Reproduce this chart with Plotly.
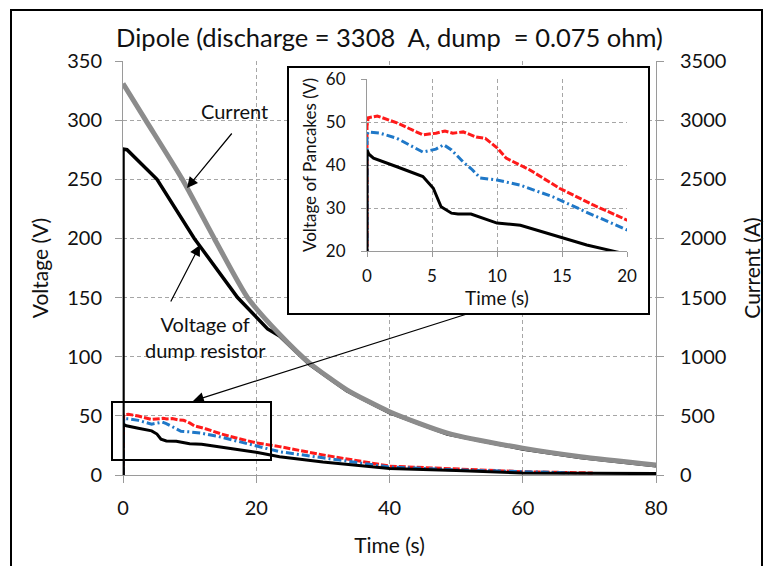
import plotly.graph_objects as go

# ---------------- data ----------------
# Current through the dipole (A), right axis
cur_t = [0, 3.4, 8.9, 13.7, 18.7, 23.5, 28, 33.6, 40, 48.7, 60, 68.7, 80]
cur_a = [3310, 3000, 2500, 2000, 1500, 1190, 946, 720, 535, 354, 227, 155, 85]

# Voltage of dump resistor (V)
dump_t = [0, 0, 0.6, 3.6, 5.1, 10.7, 17.2, 21.7, 23.5, 28, 33.6, 40, 48.7, 60, 68.7, 80]
dump_v = [0, 275.6, 275, 258, 250, 200, 150, 123.5, 117.5, 93.6, 71.2, 52.8, 34.7, 22.0, 14.8, 7.8]

# Voltage of pancakes (V)
red_t = [0, 0, 0.1, 0.8, 2.3, 4.3, 5.3, 6.0, 6.6, 7.4, 8.4, 9.1, 10.0, 10.7, 12.5,
         14.8, 17.4, 20.0, 23.5, 30, 40, 50, 60, 70.5]
red_v = [0, 49, 51, 51.4, 49.8, 47, 47.4, 47.9, 47.4, 47.7, 46.5, 46.2, 44, 41.6, 38.9,
         34.6, 30.7, 27.2, 24, 17, 7.5, 5.2, 2.8, 1.7]

blue_t = [0, 0, 0.1, 1.0, 2.3, 4.3, 5.3, 5.9, 6.5, 7.4, 8.1, 8.7, 10.0, 11.8, 14.3,
          16.9, 20.0, 23.5, 30, 40, 50, 60, 67]
blue_v = [0, 47, 47.7, 47.4, 46.2, 43, 43.7, 44.7, 43.5, 40.7, 38.9, 37, 36.5, 35.3, 32.6,
          29, 24.9, 19.7, 14.5, 6.8, 4.3, 2.5, 1.8]

black_t = [0, 0, 0.15, 0.5, 2.3, 4.3, 5.1, 5.7, 6.5, 7.0, 8.0, 9.0, 10.0, 11.8, 14.3,
           16.9, 19.2, 20.0, 23.5, 30, 40, 50, 60, 70, 80]
black_v = [0, 43.5, 42.5, 41.6, 39.6, 37.3, 34.6, 30.3, 28.8, 28.6, 28.6, 27.5, 26.5, 26, 23.7,
           21.4, 19.8, 19.2, 15.5, 11, 5.6, 3.7, 1.7, 1.4, 1.2]

main_x_ticks = [0, 20, 40, 60, 80]
main_y_ticks = [0, 50, 100, 150, 200, 250, 300, 350]
main_y2_ticks = [0, 500, 1000, 1500, 2000, 2500, 3000, 3500]
inset_x_ticks = [0, 5, 10, 15, 20]
inset_y_ticks = [20, 30, 40, 50, 60]

TITLE = "Dipole (discharge = 3308  A, dump  = 0.075 ohm)"

# ---------------- styling ----------------
FONT = "Lato, 'Open Sans', sans-serif"
TXT = "#111111"
GRID = "#a6a6a6"
AXL = "#9a9a9a"
RED = "#ff1a1a"
BLUE = "#1f78c8"
GRAY = "#8c8c8c"

# figure fills the whole 767x566 page (body margin removed in post_script)
W, H = 767, 566
# main plot area in page pixels: (123,61)-(656,475)
L, R, T, B = 123, 656, 61, 475


def px(xp):
    return (xp - L) / (R - L)


def py(yp):
    return (B - yp) / (B - T)


fig = go.Figure()

# main subplot: pancakes
fig.add_trace(go.Scatter(x=red_t, y=red_v, mode="lines",
                         line=dict(color=RED, width=3, dash="7px,2px"), name="red"))
fig.add_trace(go.Scatter(x=blue_t, y=blue_v, mode="lines",
                         line=dict(color=BLUE, width=3, dash="8px,3px,2px,3px"), name="blue"))
fig.add_trace(go.Scatter(x=black_t, y=black_v, mode="lines",
                         line=dict(color="black", width=3), name="black"))
# dump resistor voltage
fig.add_trace(go.Scatter(x=dump_t, y=dump_v, mode="lines",
                         line=dict(color="black", width=3.5), name="Voltage of dump resistor"))
# current (right axis)
fig.add_trace(go.Scatter(x=cur_t, y=cur_a, mode="lines", yaxis="y2",
                         line=dict(color=GRAY, width=5, shape="spline", smoothing=0.6),
                         name="Current"))

# dummy trace for the inset frame subplot
fig.add_trace(go.Scatter(x=[], y=[], xaxis="x2", yaxis="y3", showlegend=False))

# inset
fig.add_trace(go.Scatter(x=red_t, y=red_v, mode="lines", xaxis="x3", yaxis="y4",
                         line=dict(color=RED, width=3, dash="7px,2px")))
fig.add_trace(go.Scatter(x=blue_t, y=blue_v, mode="lines", xaxis="x3", yaxis="y4",
                         line=dict(color=BLUE, width=3, dash="8px,3px,2px,3px")))
fig.add_trace(go.Scatter(x=black_t, y=black_v, mode="lines", xaxis="x3", yaxis="y4",
                         line=dict(color="black", width=3)))

axis_common = dict(showgrid=True, gridcolor=GRID, griddash="4px,3px", gridwidth=1,
                   zeroline=False, ticks="outside", tickcolor=AXL, ticklen=7, automargin=False,
                   tickfont=dict(family=FONT, size=20, color=TXT))

fig.update_layout(
    width=W, height=H,
    margin=dict(l=L, r=W - R, t=T, b=H - B, pad=0),
    paper_bgcolor="white", plot_bgcolor="white",
    showlegend=False,
    font=dict(family=FONT, color=TXT),
    title=dict(text=TITLE, x=0.5, xref="paper", xanchor="center",
               y=1 - 38 / H, yref="container", yanchor="middle",
               font=dict(family=FONT, size=25.5, color=TXT)),
    xaxis=dict(range=[0, 80], tickvals=main_x_ticks, showline=True, linecolor=AXL,
               ticklabelstandoff=8,
               title=dict(text="Time (s)", font=dict(family=FONT, size=21, color=TXT), standoff=20),
               **axis_common),
    yaxis=dict(range=[0, 350], tickvals=main_y_ticks, showline=True, linecolor=AXL,
               ticklabelstandoff=9,
               title=dict(text="Voltage (V)", font=dict(family=FONT, size=21, color=TXT), standoff=12),
               **axis_common),
    yaxis2=dict(range=[0, 3500], tickvals=main_y2_ticks, overlaying="y", side="right",
                showline=True, linecolor=AXL, showgrid=False, zeroline=False, automargin=False,
                ticks="outside", tickcolor=AXL, ticklen=7, ticklabelstandoff=12,
                tickfont=dict(family=FONT, size=20, color=TXT),
                title=dict(text="Current (A)", font=dict(family=FONT, size=21, color=TXT), standoff=19)),
    # inset frame subplot
    xaxis2=dict(domain=[px(289), px(648)], anchor="y3", range=[0, 1], showgrid=False,
                zeroline=False, showticklabels=False, ticks="", showline=True, automargin=False,
                linecolor="black", linewidth=1.5, mirror=True, fixedrange=True),
    yaxis3=dict(domain=[py(313), py(68)], anchor="x2", range=[0, 1], showgrid=False,
                zeroline=False, showticklabels=False, ticks="", showline=True, automargin=False,
                linecolor="black", linewidth=1.5, mirror=True, fixedrange=True),
    # inset axes
    xaxis3=dict(domain=[px(367), px(627)], anchor="y4", range=[0, 20], tickvals=inset_x_ticks,
                showgrid=True, gridcolor=GRID, griddash="4px,3px", zeroline=False, automargin=False,
                showline=True, linecolor=AXL, ticks="outside", tickcolor=AXL, ticklen=5,
                ticklabelstandoff=5,
                tickfont=dict(family=FONT, size=17, color=TXT),
                title=dict(text="Time (s)", font=dict(family=FONT, size=19, color=TXT), standoff=0)),
    yaxis4=dict(domain=[py(251), py(79)], anchor="x3", range=[20, 60], tickvals=inset_y_ticks,
                showgrid=True, gridcolor=GRID, griddash="4px,3px", zeroline=False, automargin=False,
                showline=True, linecolor=AXL, ticks="outside", tickcolor=AXL, ticklen=5,
                ticklabelstandoff=12,
                tickfont=dict(family=FONT, size=17, color=TXT),
                title=dict(text="Voltage of Pancakes (V)", font=dict(family=FONT, size=17, color=TXT),
                           standoff=4)),
)

# zoom rectangle on the main plot and outer frame
fig.add_shape(type="rect", xref="paper", yref="paper",
              x0=px(112), x1=px(271), y0=py(460), y1=py(402),
              line=dict(color="black", width=2), layer="above")
fig.add_shape(type="rect", xref="paper", yref="paper",
              x0=px(11), x1=px(762), y0=py(600), y1=py(10),
              line=dict(color="black", width=2), layer="above")

# arrows
arrow = dict(xref="paper", yref="paper", axref="pixel", ayref="pixel", text="",
             showarrow=True, arrowhead=2, arrowsize=1.8, arrowwidth=1.2, arrowcolor="black")
fig.add_annotation(x=px(187), y=py(188), ax=46, ay=-56, **arrow)
fig.add_annotation(x=px(200), y=py(245), ax=-30, ay=58, **arrow)
fig.add_annotation(x=px(193), y=py(401), ax=277, ay=-88, **arrow)

# labels
fig.add_annotation(x=px(234), y=py(111), xref="paper", yref="paper", text="Current",
                   xanchor="center", yanchor="middle",
                   showarrow=False, font=dict(family=FONT, size=20, color=TXT))
fig.add_annotation(x=px(205), y=py(337), xref="paper", yref="paper",
                   xanchor="center", yanchor="middle",
                   text="Voltage of<br>dump resistor", showarrow=False, align="center",
                   font=dict(family=FONT, size=20, color=TXT))

fig.write_html("out.html",
               config={"displayModeBar": False},
               post_script="document.body.style.margin='0';"
                           "document.documentElement.style.overflow='hidden';")
